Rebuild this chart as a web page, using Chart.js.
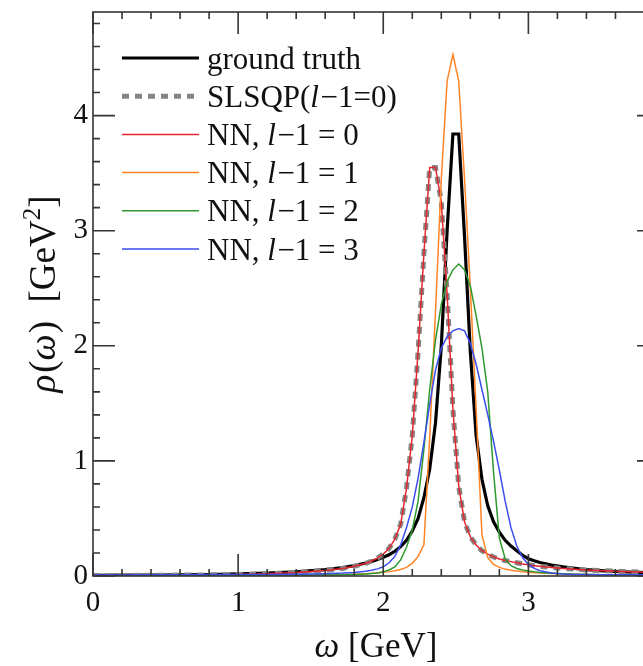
<!DOCTYPE html>
<html>
<head>
<meta charset="utf-8">
<script src="https://cdn.jsdelivr.net/npm/chart.js@4.4.1/dist/chart.umd.min.js"></script>
<style>
  html, body { margin: 0; padding: 0; background: #fff; overflow: hidden; width: 643px; height: 666px; }
  #wrap { position: relative; width: 690px; height: 666px; }
  canvas { display: block; }
</style>
</head>
<body>
<div id="wrap"><canvas id="chart" width="690" height="666"></canvas></div>
<script>
// Frequency grid ω [GeV] (denser around the resonance)
const omega = [
  0.00, 0.20, 0.40, 0.60, 0.80, 1.00, 1.20, 1.40, 1.60, 1.72,
  1.80, 1.88, 1.92, 1.96, 2.00, 2.04, 2.08, 2.12, 2.16, 2.20,
  2.24, 2.28, 2.32, 2.36, 2.40, 2.44, 2.48, 2.52, 2.56, 2.60,
  2.64, 2.68, 2.72, 2.76, 2.80, 2.84, 2.88, 2.92, 2.96, 3.00,
  3.04, 3.08, 3.16, 3.24, 3.32, 3.40, 3.52, 3.64, 3.76, 3.92
];

// Spectral functions ρ(ω) [GeV^2]
const groundTruth = [
  0.006, 0.007, 0.008, 0.010, 0.013, 0.018, 0.025, 0.036, 0.055, 0.073,
  0.090, 0.113, 0.127, 0.143, 0.162, 0.185, 0.215, 0.255, 0.310, 0.390,
  0.500, 0.680, 0.930, 1.330, 2.000, 3.000, 3.840, 3.840, 2.950, 1.950,
  1.220, 0.840, 0.610, 0.470, 0.380, 0.310, 0.260, 0.220, 0.180, 0.150,
  0.132, 0.117, 0.095, 0.079, 0.066, 0.055, 0.045, 0.037, 0.031, 0.026
];

const slsqp0 = [
  0.004, 0.005, 0.006, 0.008, 0.010, 0.014, 0.020, 0.030, 0.048, 0.066,
  0.085, 0.110, 0.130, 0.155, 0.190, 0.240, 0.320, 0.450, 0.760, 1.220,
  1.950, 2.800, 3.550, 3.550, 3.250, 2.450, 1.450, 0.780, 0.470, 0.340,
  0.270, 0.220, 0.190, 0.165, 0.148, 0.135, 0.125, 0.115, 0.105, 0.097,
  0.090, 0.084, 0.074, 0.066, 0.059, 0.053, 0.046, 0.040, 0.035, 0.030
];

const nn0 = [
  0.004, 0.005, 0.006, 0.008, 0.010, 0.014, 0.020, 0.030, 0.048, 0.066,
  0.085, 0.110, 0.130, 0.155, 0.190, 0.240, 0.320, 0.450, 0.760, 1.220,
  1.950, 2.800, 3.550, 3.550, 3.250, 2.450, 1.450, 0.780, 0.470, 0.340,
  0.270, 0.220, 0.190, 0.165, 0.148, 0.135, 0.125, 0.115, 0.105, 0.097,
  0.090, 0.084, 0.074, 0.066, 0.059, 0.053, 0.046, 0.040, 0.035, 0.030
];

const nn1 = [
  0.003, 0.003, 0.004, 0.004, 0.005, 0.006, 0.007, 0.009, 0.012, 0.014,
  0.016, 0.020, 0.023, 0.027, 0.032, 0.038, 0.046, 0.057, 0.075, 0.110,
  0.170, 0.270, 1.200, 2.300, 3.450, 4.300, 4.530, 4.300, 3.450, 2.500,
  1.450, 0.360, 0.160, 0.100, 0.075, 0.060, 0.050, 0.043, 0.037, 0.033,
  0.029, 0.026, 0.021, 0.018, 0.015, 0.013, 0.011, 0.009, 0.008, 0.007
];

const nn2 = [
  0.002, 0.002, 0.003, 0.003, 0.004, 0.005, 0.006, 0.007, 0.009, 0.011,
  0.013, 0.017, 0.021, 0.027, 0.036, 0.052, 0.080, 0.140, 0.250, 0.400,
  0.650, 1.100, 1.620, 2.050, 2.360, 2.560, 2.660, 2.710, 2.660, 2.520,
  2.260, 1.980, 1.600, 0.900, 0.330, 0.150, 0.090, 0.065, 0.052, 0.043,
  0.036, 0.031, 0.024, 0.019, 0.016, 0.013, 0.011, 0.009, 0.008, 0.007
];

const nn3 = [
  0.008, 0.009, 0.010, 0.011, 0.012, 0.013, 0.014, 0.016, 0.020, 0.025,
  0.031, 0.042, 0.050, 0.062, 0.080, 0.115, 0.170, 0.270, 0.420, 0.600,
  0.850, 1.160, 1.490, 1.790, 1.980, 2.080, 2.130, 2.150, 2.130, 2.020,
  1.840, 1.620, 1.400, 1.170, 0.920, 0.650, 0.420, 0.260, 0.160, 0.100,
  0.066, 0.046, 0.027, 0.018, 0.014, 0.012, 0.011, 0.010, 0.010, 0.010
];

// Tick labels
const xTickLabels = ['0', '1', '2', '3'];
const yTickLabels = ['0', '1', '2', '3', '4'];

// Legend / dataset labels
const seriesLabels = [
  'ground truth',
  'SLSQP(l\u22121=0)',
  'NN, l\u22121 = 0',
  'NN, l\u22121 = 1',
  'NN, l\u22121 = 2',
  'NN, l\u22121 = 3'
];
const seriesValues = [groundTruth, slsqp0, nn0, nn1, nn2, nn3];

// ---- styling ----
const SERIF = '"Liberation Serif", "Times New Roman", serif';
const styles = [
  { color: '#000000', width: 3.2, dash: [],     order: 6 },
  { color: '#858585', width: 5,   dash: [7, 6], order: 5 },
  { color: '#e3262f', width: 1.5, dash: [],     order: 4 },
  { color: '#ff8426', width: 1.5, dash: [],     order: 3 },
  { color: '#2e9a2e', width: 1.5, dash: [],     order: 2 },
  { color: '#3a4ef0', width: 1.5, dash: [],     order: 1 }
];

const datasets = seriesValues.map((vals, i) => ({
  label: seriesLabels[i],
  data: omega.map((w, k) => ({ x: w, y: vals[k] })),
  borderColor: styles[i].color,
  borderWidth: styles[i].width,
  borderDash: styles[i].dash,
  order: styles[i].order,
  fill: false,
  pointRadius: 0,
  tension: 0
}));

// Draw text where the "l" before the minus sign is italic
function drawRich(ctx, text, x, y, size) {
  const parts = text.split(/(l(?=\u2212))/);
  let cx = x;
  parts.forEach(p => {
    if (!p) return;
    ctx.font = (p === 'l' ? 'italic ' : '') + size + 'px ' + SERIF;
    ctx.fillText(p, cx, y);
    cx += ctx.measureText(p).width + (p === 'l' ? 1.5 : 0);
  });
}

function drawSegments(ctx, segs, x, y) {
  let cx = x;
  segs.forEach(s => {
    ctx.font = s.font;
    ctx.fillText(s.t, cx, y + (s.dy || 0));
    cx += ctx.measureText(s.t).width + (s.gap || 0);
  });
  return cx - x;
}
function measureSegments(ctx, segs) {
  let w = 0;
  segs.forEach(s => { ctx.font = s.font; w += ctx.measureText(s.t).width + (s.gap || 0); });
  return w;
}

const framePlugin = {
  id: 'frameTicks',
  afterDatasetsDraw(chart) {
    const { ctx, chartArea: a, scales: { x, y } } = chart;
    ctx.save();
    ctx.strokeStyle = '#353535';
    ctx.lineWidth = 1.6;
    ctx.strokeRect(a.left, a.top, a.right - a.left, a.bottom - a.top);
    const major = 22, minor = 7;
    ctx.beginPath();
    for (let k = 0; k * 0.2 <= x.max + 1e-9; k++) {
      const px = x.getPixelForValue(k * 0.2);
      const len = (k % 5 === 0) ? major : minor;
      ctx.moveTo(px, a.bottom); ctx.lineTo(px, a.bottom - len);
      ctx.moveTo(px, a.top);    ctx.lineTo(px, a.top + len);
    }
    for (let k = 0; k * 0.2 <= y.max + 1e-9; k++) {
      const py = y.getPixelForValue(k * 0.2);
      const len = (k % 5 === 0) ? major : minor;
      ctx.moveTo(a.left, py);  ctx.lineTo(a.left + len, py);
      ctx.moveTo(a.right, py); ctx.lineTo(a.right - len, py);
    }
    ctx.stroke();
    ctx.restore();
  }
};

const legendPlugin = {
  id: 'insideLegend',
  afterDraw(chart) {
    const { ctx } = chart;
    ctx.save();
    const x0 = 122, x1 = 199, tx = 207, y0 = 58, dy = 38.2;
    chart.data.datasets.forEach((ds, i) => {
      const yy = y0 + i * dy;
      ctx.beginPath();
      ctx.strokeStyle = ds.borderColor;
      ctx.lineWidth = ds.borderWidth;
      ctx.setLineDash(ds.borderDash || []);
      ctx.moveTo(x0, yy); ctx.lineTo(x1, yy);
      ctx.stroke();
      ctx.setLineDash([]);
      ctx.fillStyle = '#111';
      ctx.textBaseline = 'alphabetic';
      drawRich(ctx, ds.label, tx, yy + 10.5, 31);
    });
    ctx.restore();
  }
};

const titlePlugin = {
  id: 'axisTitles',
  afterDraw(chart) {
    const { ctx, chartArea: a } = chart;
    ctx.save();
    ctx.fillStyle = '#111';
    ctx.textBaseline = 'alphabetic';
    const fs = 35;
    const xt = [
      { t: '\u03c9', font: 'italic ' + fs + 'px ' + SERIF },
      { t: ' [GeV]', font: fs + 'px ' + SERIF }
    ];
    const wx = measureSegments(ctx, xt);
    drawSegments(ctx, xt, (a.left + a.right) / 2 - wx / 2, 657);

    const fy = 37;
    const yt = [
      { t: '\u03c1', font: 'italic ' + fy + 'px ' + SERIF, gap: 2 },
      { t: '(', font: fy + 'px ' + SERIF },
      { t: '\u03c9', font: 'italic ' + fy + 'px ' + SERIF, gap: 1 },
      { t: ')  [GeV', font: fy + 'px ' + SERIF },
      { t: '2', font: Math.round(fy * 0.68) + 'px ' + SERIF, dy: -15 },
      { t: ']', font: fy + 'px ' + SERIF }
    ];
    const wy = measureSegments(ctx, yt);
    ctx.translate(55, (a.top + a.bottom) / 2);
    ctx.rotate(-Math.PI / 2);
    drawSegments(ctx, yt, -wy / 2, 0);
    ctx.restore();
  }
};

function labelFrom(list) {
  return (v) => {
    const i = Math.round(v);
    return (Math.abs(v - i) < 1e-6 && list[i] !== undefined) ? list[i] : '';
  };
}

new Chart(document.getElementById('chart'), {
  type: 'line',
  data: { datasets },
  options: {
    responsive: false,
    animation: false,
    devicePixelRatio: 1,
    layout: { padding: { top: 12, right: 31, left: 0, bottom: 0 } },
    plugins: { legend: { display: false }, tooltip: { enabled: false } },
    scales: {
      x: {
        type: 'linear', min: 0, max: 3.9,
        grid: { display: false, drawTicks: false },
        border: { display: false },
        ticks: {
          stepSize: 1, includeBounds: false, autoSkip: false, maxRotation: 0,
          padding: 10, color: '#111',
          font: { family: SERIF, size: 29 },
          callback: labelFrom(xTickLabels)
        },
        afterFit(s) {
          s.height = 90;
          s.paddingLeft = 0; s.paddingRight = 0;
        }
      },
      y: {
        type: 'linear', min: 0, max: 4.9,
        grid: { display: false, drawTicks: false },
        border: { display: false },
        ticks: {
          stepSize: 1, includeBounds: false, autoSkip: false,
          padding: 5, color: '#111',
          font: { family: SERIF, size: 29 },
          callback: labelFrom(yTickLabels)
        },
        afterFit(s) {
          s.width = 93;
          s.paddingTop = 0; s.paddingBottom = 0;
        }
      }
    }
  },
  plugins: [framePlugin, legendPlugin, titlePlugin]
});
</script>
</body>
</html>
